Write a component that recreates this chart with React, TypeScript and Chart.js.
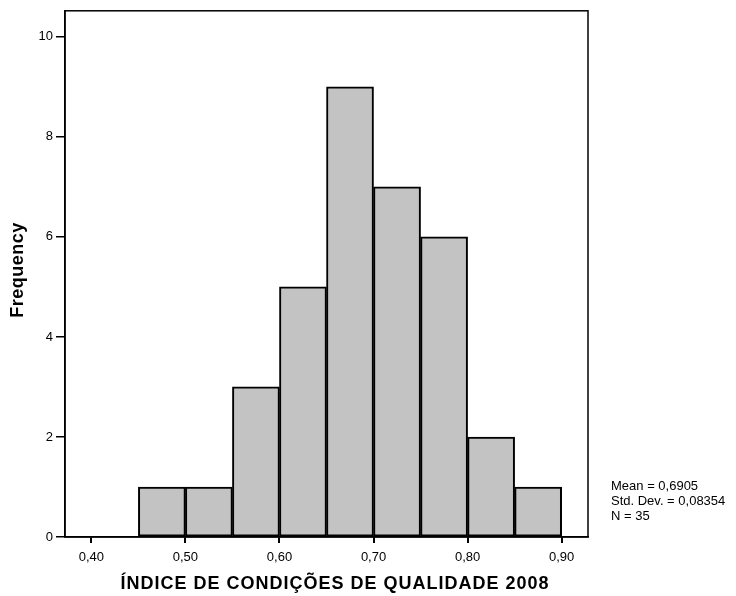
import React, { useEffect, useRef } from "react";
import { Chart, registerables } from "chart.js";

Chart.register(...registerables);

const binCenters = [0.475, 0.525, 0.575, 0.625, 0.675, 0.725, 0.775, 0.825, 0.875];
const frequencies = [1, 1, 3, 5, 9, 7, 6, 2, 1];
const xTickValues = [0.4, 0.5, 0.6, 0.7, 0.8, 0.9];
const yTickValues = [0, 2, 4, 6, 8, 10];
const xTitle = "ÍNDICE DE CONDIÇÕES DE QUALIDADE 2008";
const yTitle = "Frequency";
const statsLines = ["Mean = 0,6905", "Std. Dev. = 0,08354", "N = 35"];

const FONT = "'Liberation Sans', Arial, sans-serif";

export default function App() {
  const ref = useRef<HTMLCanvasElement | null>(null);

  useEffect(() => {
    if (!ref.current) return;
    const decor = {
      id: "decor",
      afterDraw(chart: any) {
        const { ctx, chartArea } = chart;
        ctx.save();
        ctx.strokeStyle = "#000";
        ctx.lineWidth = 1.5;
        ctx.strokeRect(chartArea.left, chartArea.top, chartArea.right - chartArea.left, chartArea.bottom - chartArea.top);
        ctx.fillStyle = "#000";
        // x title
        ctx.font = `bold 18px ${FONT}`;
        (ctx as any).letterSpacing = "1px";
        ctx.textAlign = "center";
        ctx.textBaseline = "middle";
        ctx.fillText(xTitle, 335, 584);
        // y title
        ctx.save();
        ctx.translate(18, 270);
        ctx.rotate(-Math.PI / 2);
        (ctx as any).letterSpacing = "0.5px";
        ctx.fillText(yTitle, 0, 0);
        ctx.restore();
        // stats
        (ctx as any).letterSpacing = "0px";
        ctx.font = `13px ${FONT}`;
        ctx.textAlign = "left";
        statsLines.forEach((s, i) => ctx.fillText(s, 611, 486 + i * 15));
        ctx.restore();
      },
    };

    const chart = new Chart(ref.current, {
      type: "bar",
      data: {
        datasets: [
          {
            data: binCenters.map((x, i) => ({ x, y: frequencies[i] })),
            backgroundColor: "#c3c3c3",
            borderColor: "#000",
            borderWidth: 2,
            borderSkipped: false,
            barPercentage: 1,
            categoryPercentage: 1,
          },
        ],
      },
      options: {
        responsive: false,
        animation: false,
        devicePixelRatio: 1,
        layout: { padding: { left: 0, top: 7, right: 148, bottom: 0 } },
        plugins: { legend: { display: false }, tooltip: { enabled: false } },
        scales: {
          x: {
            type: "linear",
            min: 0.372,
            max: 0.928,
            offset: false,
            afterFit: (s: any) => { s.height = 59; },
            afterBuildTicks: (s: any) => { s.ticks = xTickValues.map((v) => ({ value: v })); },
            ticks: {
              autoSkip: false,
              maxRotation: 0,
              padding: 7,
              color: "#000",
              font: { family: FONT, size: 13 },
              callback: (v: any) => Number(v).toFixed(2).replace(".", ","),
            },
            grid: { offset: false, drawOnChartArea: false, drawTicks: true, tickLength: 6, color: "#000", lineWidth: 2 },
            border: { display: true, color: "#000", width: 1.5 },
          },
          y: {
            min: 0,
            max: 10.52,
            afterFit: (s: any) => { s.width = 65; },
            afterBuildTicks: (s: any) => { s.ticks = yTickValues.map((v) => ({ value: v })); },
            ticks: {
              padding: 3,
              color: "#000",
              font: { family: FONT, size: 13 },
              callback: (v: any) => String(v),
            },
            grid: { offset: false, drawOnChartArea: false, drawTicks: true, tickLength: 9, color: "#000", lineWidth: 1.5 },
            border: { display: true, color: "#000", width: 1.5 },
          },
        },
      },
      plugins: [decor],
    } as any);
    return () => chart.destroy();
  }, []);

  return (
    <div style={{ position: "absolute", left: 0, top: 0, width: 736, height: 596, background: "#fff" }}>
      <canvas ref={ref} width={736} height={596} style={{ width: 736, height: 596, display: "block" }} />
    </div>
  );
}
